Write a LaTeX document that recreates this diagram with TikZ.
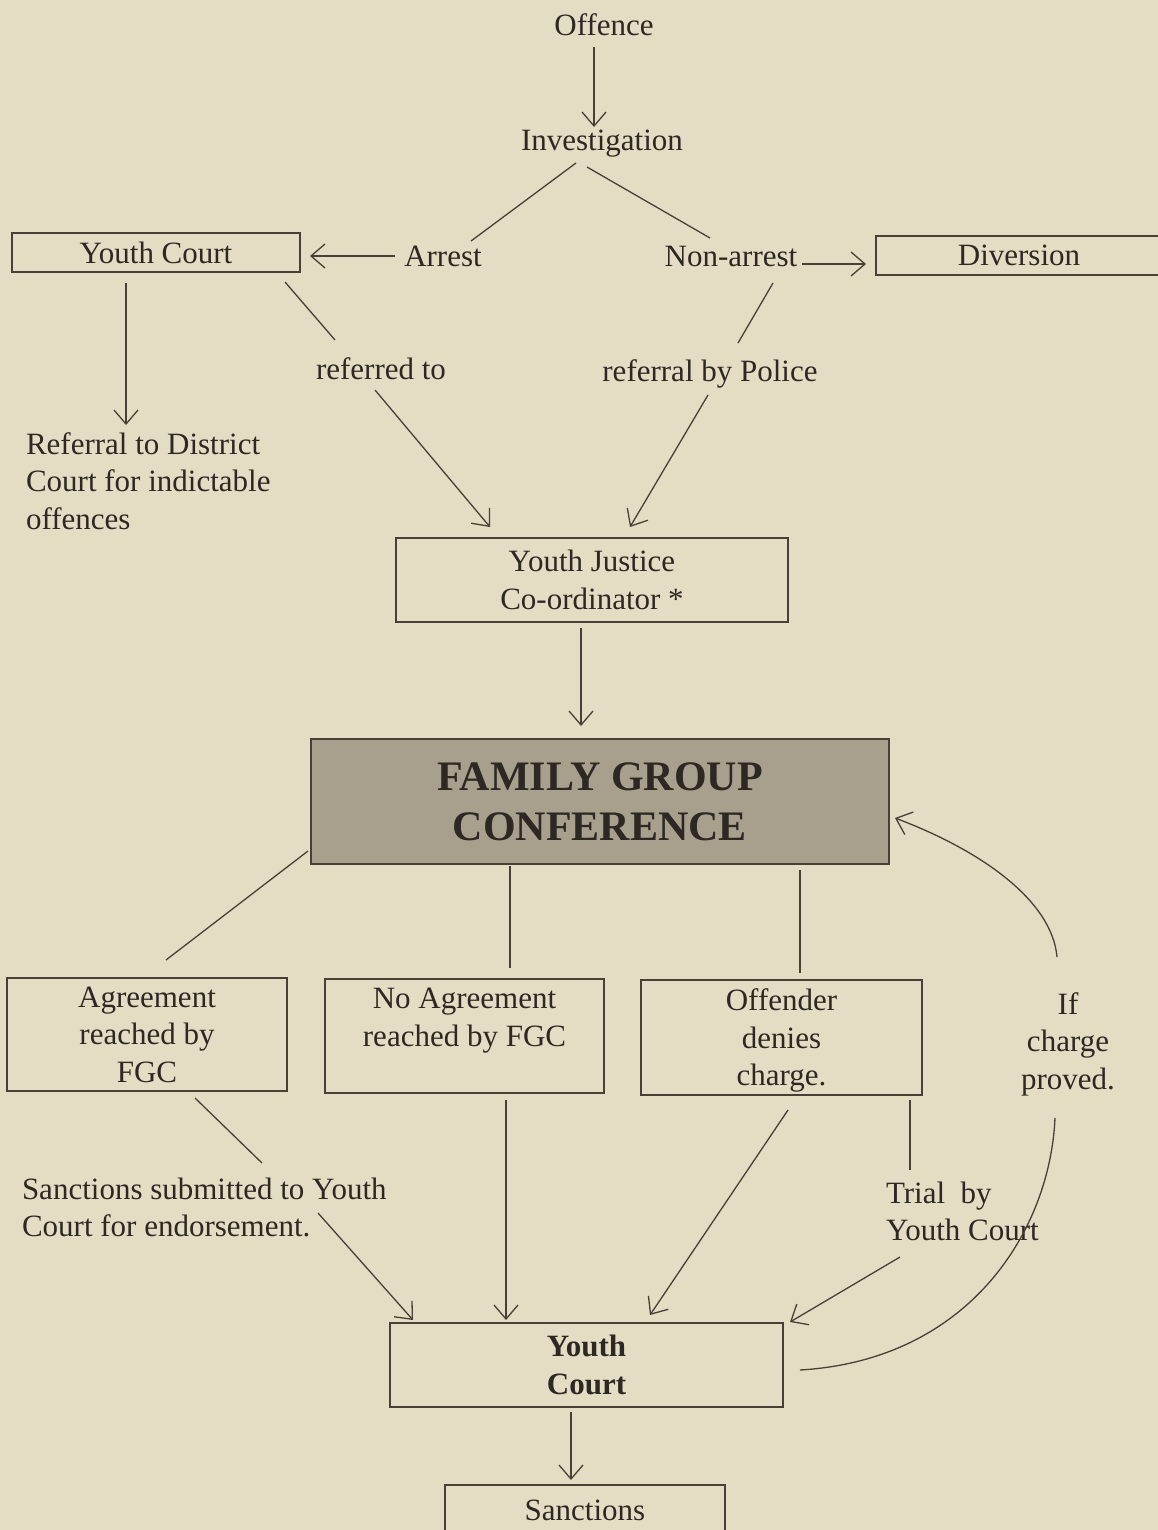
\documentclass[tikz,border=0pt]{standalone}
\usepackage{fontspec}
\setmainfont{Liberation Serif}
\usetikzlibrary{arrows.meta}
\definecolor{bg}{RGB}{227,221,195}
\definecolor{ink}{RGB}{45,40,35}
\definecolor{ln}{RGB}{72,64,55}
\definecolor{fgcfill}{RGB}{166,160,140}
\begin{document}
\begin{tikzpicture}[x=1pt,y=-1pt,
  txt/.style={font=\fontsize{31}{37.5}\selectfont, text=ink, inner sep=0pt, outer sep=0pt, align=center},
  box/.style={draw=ln, line width=1.8pt, font=\fontsize{31}{37.5}\selectfont, text=ink, inner sep=0pt, outer sep=0pt, align=center},
  con/.style={draw=ln, line width=1.3pt},
  conarr/.style={con, -{Straight Barb[length=14pt,width=24pt]}}]
\fill[bg] (0,0) rectangle (1158,1530);
\useasboundingbox (0,0) rectangle (1158,1530);

% nodes
\node[txt] (off) at (604,25) {Offence};
\node[txt] (inv) at (602,144) {Investigation};
\node[txt] (arrest) at (443,256) {Arrest};
\node[txt] (nonarrest) at (731,257) {Non-arrest};
\node[box, minimum width=288pt, minimum height=39pt] (yc1) at (156,252.5) {Youth Court};
\node[box, minimum width=286pt, minimum height=39pt] (div) at (1019,255.5) {Diversion};
\node[txt, align=left, anchor=west] (ref) at (26,481) {Referral to District\\Court for indictable\\offences};
\node[txt] (reft) at (381,369) {referred to};
\node[txt] (refp) at (710,374) {referral by Police};
\node[box, minimum width=392pt, minimum height=84pt] (yjc) at (592,580) {Youth Justice\\Co-ordinator *};
\node[box, fill=fgcfill, minimum width=578pt, minimum height=125pt, font=\bfseries\fontsize{42}{50}\selectfont] (fgc) at (600,801.5) {FAMILY GROUP\\CONFERENCE};
\node[box, minimum width=280pt, minimum height=113pt, text depth=-6pt] (agr) at (147,1034.5) {Agreement\\reached by\\FGC};
\node[box, minimum width=279pt, minimum height=114pt, text depth=-8pt] (noa) at (464.5,1036) {No Agreement\\reached by FGC\\\mbox{}};
\node[box, minimum width=281pt, minimum height=115pt, text depth=-5pt] (offd) at (781.5,1037.5) {Offender\\denies\\charge.};
\node[txt] (ifc) at (1068,1044) {If\\charge\\proved.};
\node[txt, align=left, anchor=west] (sub) at (22,1207.5) {Sanctions submitted to Youth\\Court for endorsement.};
\node[txt, align=left, anchor=west] (trial) at (886,1211.5) {Trial~~by\\Youth Court};
\node[box, minimum width=393pt, minimum height=84pt, font=\bfseries\fontsize{31}{38.5}\selectfont] (yc2) at (586.5,1365) {Youth\\Court};
\node[box, minimum width=280pt, minimum height=50pt] (sanc) at (585,1510) {Sanctions};

% connectors
\draw[conarr] ([shift={(-10,22)}]off.center) -- ([shift={(-8,-17)}]inv.center);
\draw[con] ([shift={(-26,19)}]inv.center) -- ([shift={(28,-15)}]arrest.center);
\draw[con] ([shift={(-15,23)}]inv.center) -- ([shift={(-21,-19)}]nonarrest.center);
\draw[conarr] ([shift={(-48,0)}]arrest.center) -- ([shift={(10,3.5)}]yc1.east);
\draw[conarr] ([shift={(71,7)}]nonarrest.center) -- ([shift={(-10,8.5)}]div.west);
\draw[conarr] ([shift={(-30,11)}]yc1.south) -- ([shift={(100,-56)}]ref.west);
\draw[con] ([shift={(-15,10)}]yc1.south east) -- ([shift={(-46,-29)}]reft.center);
\draw[conarr] ([shift={(-6,21)}]reft.center) -- ([shift={(-102,-11)}]yjc.north);
\draw[con] ([shift={(42,26)}]nonarrest.center) -- ([shift={(28,-31)}]refp.center);
\draw[conarr] ([shift={(-2,21)}]refp.center) -- ([shift={(38,-11)}]yjc.north);
\draw[conarr] ([shift={(-11,6)}]yjc.south) -- ([shift={(-19,-13)}]fgc.north);
\draw[con] ([shift={(-3,49.5)}]fgc.west) -- ([shift={(19,-18)}]agr.north);
\draw[con] ([shift={(-90,2)}]fgc.south) -- ([shift={(45.5,-11)}]noa.north);
\draw[con] ([shift={(200,6)}]fgc.south) -- ([shift={(18.5,-7)}]offd.north);
\draw[conarr] ([shift={(-11,-87)}]ifc.center) .. controls (1052,900) and (980,850) .. ([shift={(6,16.5)}]fgc.east);
\draw[con] ([shift={(48,7)}]agr.south) -- ([shift={(240,-44.5)}]sub.west);
\draw[conarr] ([shift={(296,5.5)}]sub.west) -- ([shift={(-173.5,-3)}]yc2.north);
\draw[conarr] ([shift={(41.5,7)}]noa.south) -- ([shift={(-80.5,-3)}]yc2.north);
\draw[conarr] ([shift={(6.5,15)}]offd.south) -- ([shift={(63.5,-8)}]yc2.north);
\draw[con] ([shift={(128.5,5)}]offd.south) -- ([shift={(24,-41.5)}]trial.west);
\draw[conarr] ([shift={(14,45.5)}]trial.west) -- ([shift={(7,-1)}]yc2.north east);
\draw[con] ([shift={(-13,74)}]ifc.center) .. controls (1050,1230) and (970,1360) .. ([shift={(17,5)}]yc2.east);
\draw[conarr] ([shift={(-15.5,5)}]yc2.south) -- ([shift={(-14,-5)}]sanc.north);
\end{tikzpicture}
\end{document}
